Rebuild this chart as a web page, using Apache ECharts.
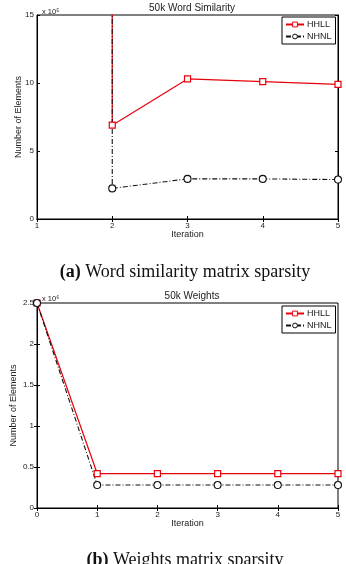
<!DOCTYPE html>
<html>
<head>
<meta charset="utf-8">
<script src="https://cdn.jsdelivr.net/npm/echarts@6/dist/echarts.min.js"></script>
<style>
  html, body { margin: 0; padding: 0; background: #fff; }
  #main { width: 346px; height: 564px; }
</style>
</head>
<body>
<div id="main"></div>
<script>
// (a) 50k word similarity, values in units of 10^5
const simIter = [1, 2, 3, 4, 5];
const simHHLL = [25000, 6.9, 10.3, 10.1, 9.9];
const simNHNL = [25000, 2.25, 2.95, 2.95, 2.9];
const simTicks = [0, 5, 10, 15];

// (b) 50k weights, values in units of 10^6
const wIter = [0, 1, 2, 3, 4, 5];
const wHHLL = [2.5, 0.42, 0.42, 0.42, 0.42, 0.42];
const wNHNL = [2.5, 0.28, 0.28, 0.28, 0.28, 0.28];
const wTicks = [0, 0.5, 1, 1.5, 2, 2.5];

const font = 'Liberation Sans, Arial, sans-serif';
const serif = 'Liberation Serif, Times New Roman, serif';
const RED = '#e8000b';
const BLK = '#111';

const pairs = (xs, ys) => xs.map((x, i) => [x, ys[i]]);

const chart = echarts.init(document.getElementById('main'));

function axes(gi, xmin, xmax, ymin, ymax, yint, yGap) {
    const tick = { show: true, inside: true, length: 3, lineStyle: { color: '#000', width: 1 } };
    const line = { show: true, lineStyle: { color: '#000', width: 1 } };
    const lab = { fontFamily: font, fontSize: 8, color: '#222' };
    return {
        x: [{
            gridIndex: gi, type: 'value', min: xmin, max: xmax, interval: 1,
            axisLine: line, axisTick: tick, splitLine: { show: false },
            axisLabel: Object.assign({ margin: 3 }, lab),
            name: 'Iteration', nameLocation: 'middle', nameGap: 11, nameMoveOverlap: false,
            nameTextStyle: { fontFamily: font, fontSize: 9, color: '#222' }
        }, {
            gridIndex: gi, type: 'value', position: 'top', min: xmin, max: xmax, interval: 1,
            axisLine: line, axisTick: tick, axisLabel: { show: false }, splitLine: { show: false }
        }],
        y: [{
            gridIndex: gi, type: 'value', min: ymin, max: ymax, interval: yint,
            axisLine: line, axisTick: tick, splitLine: { show: false },
            axisLabel: Object.assign({ margin: 3 }, lab),
            name: 'Number of Elements', nameLocation: 'middle', nameGap: yGap, nameMoveOverlap: false,
            nameTextStyle: { fontFamily: font, fontSize: 9, color: '#222' }
        }, {
            gridIndex: gi, type: 'value', position: 'right', min: ymin, max: ymax, interval: yint,
            axisLine: line, axisTick: tick, axisLabel: { show: false }, splitLine: { show: false }
        }]
    };
}

const a1 = axes(0, 1, 5, simTicks[0], simTicks[simTicks.length - 1], 5, 14);
const a2 = axes(1, 0, 5, wTicks[0], wTicks[wTicks.length - 1], 0.5, 19);

function hhll(xi, yi, data) {
    return {
        name: 'HHLL', type: 'line', xAxisIndex: xi, yAxisIndex: yi, data: data,
        symbol: 'rect', symbolSize: 6, showAllSymbol: true,
        lineStyle: { color: RED, width: 1.2 },
        itemStyle: { color: '#fff', borderColor: RED, borderWidth: 1.2 },
        emphasis: { disabled: true }
    };
}
function nhnl(xi, yi, data) {
    return {
        name: 'NHNL', type: 'line', xAxisIndex: xi, yAxisIndex: yi, data: data,
        symbol: 'circle', symbolSize: 7, showAllSymbol: true,
        lineStyle: { color: BLK, width: 1.1, type: [5, 2, 1, 2] },
        itemStyle: { color: '#fff', borderColor: BLK, borderWidth: 1.1 },
        emphasis: { disabled: true }
    };
}

function legend(top) {
    return {
        data: [
            { name: 'HHLL', itemStyle: { color: '#fff', borderColor: RED, borderWidth: 1 } },
            { name: 'NHNL', itemStyle: { color: '#fff', borderColor: BLK, borderWidth: 1 } }
        ],
        orient: 'vertical', left: 282, top: top,
        backgroundColor: '#fff', borderColor: '#000', borderWidth: 1,
        padding: [3, 4, 3, 3], itemGap: 3, itemWidth: 18, itemHeight: 6,
        textStyle: { fontFamily: font, fontSize: 9, color: '#222', padding: [0, 0, 0, -2] }
    };
}

const option = {
    animation: false,
    backgroundColor: '#fff',
    title: [
        { text: '50k Word Similarity', left: 187, top: -2, textAlign: 'center',
          textStyle: { fontFamily: font, fontSize: 10, fontWeight: 'normal', color: '#222' } },
        { text: 'x 10⁵', left: 37, top: 3,
          textStyle: { fontFamily: font, fontSize: 7.5, fontWeight: 'normal', color: '#222' } },
        { text: '{b|(a)} Word similarity matrix sparsity', left: 180, top: 258, textAlign: 'center',
          textStyle: { fontFamily: serif, fontSize: 18, fontWeight: 'normal', color: '#111',
                       rich: { b: { fontFamily: serif, fontSize: 18, fontWeight: 'bold', color: '#111' } } } },
        { text: '50k Weights', left: 187, top: 286, textAlign: 'center',
          textStyle: { fontFamily: font, fontSize: 10, fontWeight: 'normal', color: '#222' } },
        { text: 'x 10⁶', left: 37, top: 290,
          textStyle: { fontFamily: font, fontSize: 7.5, fontWeight: 'normal', color: '#222' } },
        { text: '{b|(b)} Weights matrix sparsity', left: 180, top: 546, textAlign: 'center',
          textStyle: { fontFamily: serif, fontSize: 18, fontWeight: 'normal', color: '#111',
                       rich: { b: { fontFamily: serif, fontSize: 18, fontWeight: 'bold', color: '#111' } } } }
    ],
    legend: [legend(17), legend(306)],
    grid: [
        { left: 37, top: 15, width: 301, height: 204, outerBoundsMode: 'none', containLabel: false,
          show: true, borderColor: '#000', borderWidth: 1, backgroundColor: '#fff' },
        { left: 37, top: 303, width: 301, height: 205, outerBoundsMode: 'none', containLabel: false,
          show: true, borderColor: '#000', borderWidth: 1, backgroundColor: '#fff' }
    ],
    xAxis: a1.x.concat(a2.x),
    yAxis: a1.y.concat(a2.y),
    series: [
        hhll(0, 0, pairs(simIter, simHHLL)),
        nhnl(0, 0, pairs(simIter, simNHNL)),
        hhll(2, 2, pairs(wIter, wHHLL)),
        nhnl(2, 2, pairs(wIter, wNHNL))
    ]
};

chart.setOption(option);
</script>
</body>
</html>
